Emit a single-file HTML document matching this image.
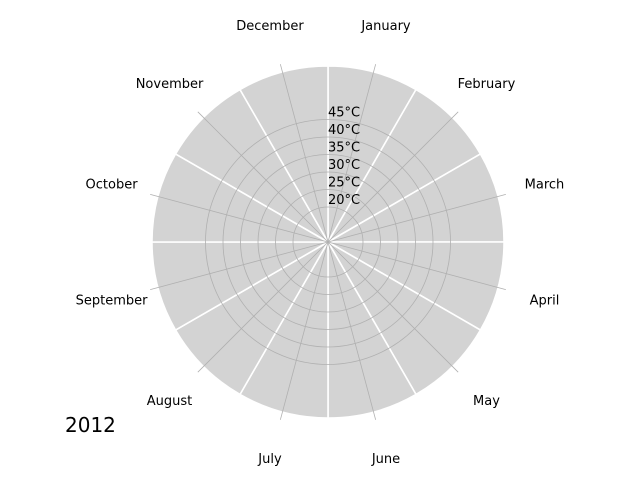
<!DOCTYPE html>
<html><head><meta charset="utf-8"><style>
body{margin:0;background:#fff}
svg text{font-family:"DejaVu Sans","Liberation Sans",sans-serif;fill:#000}
</style></head><body>
<svg id="chart" width="640" height="480" viewBox="0 0 640 480" xmlns="http://www.w3.org/2000/svg">
<g id="bars"></g>
<g id="grid"></g>
<g id="labels"></g>
<text x="65" y="432" font-size="20">2012</text>
</svg>
<script>
const months = ["January","February","March","April","May","June","July","August","September","October","November","December"];
const temps = [60.3,60.3,60.3,60.3,60.3,60.3,60.3,60.3,60.3,60.3,60.3,60.3];
const rTicks = [20,25,30,35,40,45];
const rTickLabels = ["20°C","25°C","30°C","35°C","40°C","45°C"];
const cx=328, cy=242, r0=10, pxPer=3.5, rMaxVal=62.6;
const NS="http://www.w3.org/2000/svg";
function rScale(v){return Math.max(0,(v-r0)*pxPer);}
function pt(deg,r){const a=deg*Math.PI/180;return [cx+r*Math.sin(a), cy-r*Math.cos(a)];}
function mk(tag,attrs,parent){const e=document.createElementNS(NS,tag);for(const k in attrs)e.setAttribute(k,attrs[k]);parent.appendChild(e);return e;}
const bars=document.getElementById('bars'), grid=document.getElementById('grid'), labels=document.getElementById('labels');
const step=360/months.length;
temps.forEach((v,i)=>{
  const r=rScale(v), a0=i*step, a1=(i+1)*step;
  const p0=pt(a0,r), p1=pt(a1,r);
  const p=mk('path',{d:`M${cx},${cy}L${p0[0]},${p0[1]}A${r},${r} 0 0 1 ${p1[0]},${p1[1]}Z`,fill:'#d3d3d3',stroke:'#fff','stroke-width':1.6},bars);
  
  
});
rTicks.forEach((v,i)=>{
  const c=mk('circle',{cx:cx,cy:cy,r:rScale(v),fill:'none',stroke:'#b0b0b0','stroke-width':0.8},grid);
  
  
  const t=mk('text',{x:cx,y:cy-rScale(v)-3,'font-size':13},labels);
  t.textContent=rTickLabels[i];
  
  
});
const rOuter=rScale(rMaxVal);
months.forEach((m,i)=>{
  const a=i*step+step/2;
  const p=pt(a,rOuter);
  const l=mk('line',{x1:cx,y1:cy,x2:p[0],y2:p[1],stroke:'#b0b0b0','stroke-width':0.8},grid);
  
  
  const q=pt(a,rOuter+40);
  const t=mk('text',{x:q[0],y:q[1]+4.5,'font-size':13,'text-anchor':'middle'},labels);
  t.textContent=m;
  
  
});
</script>
</body></html>
